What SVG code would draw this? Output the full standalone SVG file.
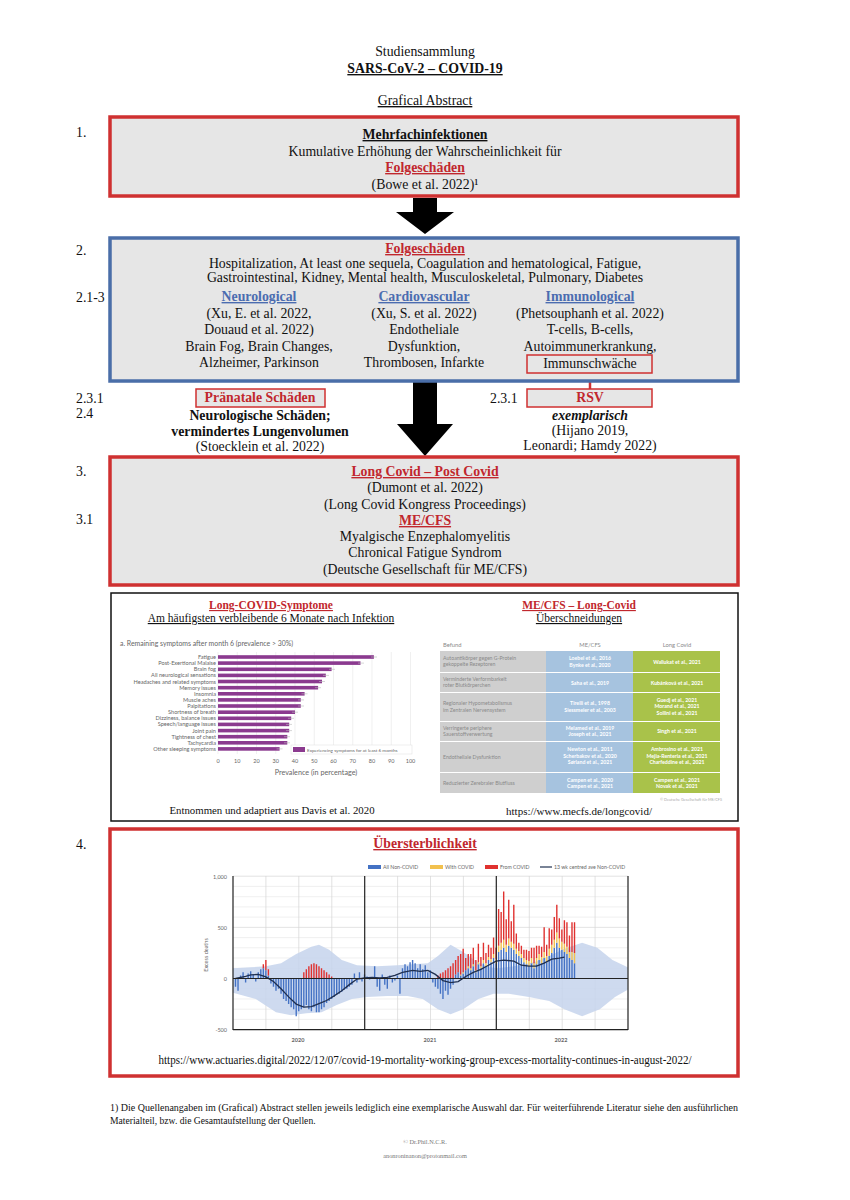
<svg xmlns="http://www.w3.org/2000/svg" width="850" height="1200" viewBox="0 0 850 1200">
<style>
.t{font-family:"Liberation Serif","Times New Roman",serif;font-size:13.8px;fill:#111;text-anchor:middle}
.s{text-anchor:start}
.e{text-anchor:end}
.b{font-weight:bold}
.u{text-decoration:underline}
.r{fill:#c1272d}
.bl{fill:#4b6cb0}
.boxr{fill:#e6e6e6;stroke:#cf3131;stroke-width:3.5}
.boxb{fill:#e6e6e6;stroke:#4a6ea8;stroke-width:3.5}
.c{font-family:Lato,"Open Sans",sans-serif;fill:#666}
.lab{font-size:5.6px;text-anchor:end}
.tk{font-size:5.5px;text-anchor:middle}
.tb{font-family:Lato,"Open Sans",sans-serif;font-size:5.2px}
.tg{fill:#8a8a8a}
.tw{fill:#fff;text-anchor:middle;font-weight:bold}
.g1{stroke:#e9e9e9;stroke-width:0.7}
.g2{stroke:#d6d6d6;stroke-width:0.7}
.ax{stroke:#222;stroke-width:1.2}
.m{font-size:11.5px}
</style>

<g id="title">
<text class="t" x="425" y="56">Studiensammlung</text>
<text class="t b u" x="425" y="73">SARS-CoV-2 – COVID-19</text>
<text class="t u" x="425" y="105">Grafical Abstract</text>
</g>

<g id="numbers">
<text class="t s" x="76" y="137">1.</text>
<text class="t s" x="76" y="255">2.</text>
<text class="t s" x="76" y="302">2.1-3</text>
<text class="t s" x="76" y="403">2.3.1</text>
<text class="t s" x="76" y="418">2.4</text>
<text class="t s" x="490" y="403">2.3.1</text>
<text class="t s" x="76" y="476">3.</text>
<text class="t s" x="76" y="524">3.1</text>
<text class="t s" x="76" y="849">4.</text>
</g>

<g id="connectors">
<polygon points="413,198 437,198 437,212 454,212 425,234 396,212 413,212" fill="#000"/>
<polygon points="413,382 437,382 437,424 453,424 425,456 397,424 413,424" fill="#000"/>
<line x1="590" y1="373" x2="590" y2="389" stroke="#cf3131" stroke-width="2.5"/>
</g>

<g id="node1">
<rect class="boxr" x="110" y="117" width="628" height="79"/>
<text class="t b u" x="425" y="139">Mehrfachinfektionen</text>
<text class="t" x="425" y="156">Kumulative Erhöhung der Wahrscheinlichkeit für</text>
<text class="t b u r" x="425" y="172">Folgeschäden</text>
<text class="t" x="425" y="189">(Bowe et al. 2022)¹</text>
</g>

<g id="node2">
<rect class="boxb" x="110" y="238" width="628" height="143"/>
<text class="t b u r" x="425" y="253">Folgeschäden</text>
<text class="t" x="425" y="268">Hospitalization, At least one sequela, Coagulation and hematological, Fatigue,</text>
<text class="t" x="425" y="282">Gastrointestinal, Kidney, Mental health, Musculoskeletal, Pulmonary, Diabetes</text>
<text class="t b u bl" x="259" y="301">Neurological</text>
<text class="t" x="259" y="318">(Xu, E. et al. 2022,</text>
<text class="t" x="259" y="334">Douaud et al. 2022)</text>
<text class="t" x="259" y="351">Brain Fog, Brain Changes,</text>
<text class="t" x="259" y="367">Alzheimer, Parkinson</text>
<text class="t b u bl" x="424" y="301">Cardiovascular</text>
<text class="t" x="424" y="318">(Xu, S. et al. 2022)</text>
<text class="t" x="424" y="334">Endotheliale</text>
<text class="t" x="424" y="351">Dysfunktion,</text>
<text class="t" x="424" y="367">Thrombosen, Infarkte</text>
<text class="t b u bl" x="590" y="301">Immunological</text>
<text class="t" x="590" y="318">(Phetsouphanh et al. 2022)</text>
<text class="t" x="590" y="334">T-cells, B-cells,</text>
<text class="t" x="590" y="351">Autoimmunerkrankung,</text>
</g>

<g id="node-immunschwaeche">
<rect x="527" y="355" width="125" height="18" fill="none" stroke="#cf3131" stroke-width="1.5"/>
<text class="t" x="590" y="368">Immunschwäche</text>
</g>

<g id="node-praenatal">
<rect x="196" y="389" width="129" height="18" fill="#e6e6e6" stroke="#cf3131" stroke-width="1.5"/>
<text class="t b r" x="260" y="402">Pränatale Schäden</text>
<text class="t b" x="260" y="420">Neurologische Schäden;</text>
<text class="t b" x="260" y="436">vermindertes Lungenvolumen</text>
<text class="t" x="260" y="451">(Stoecklein et al. 2022)</text>
</g>

<g id="node-rsv">
<rect x="527" y="389" width="125" height="18" fill="#e6e6e6" stroke="#cf3131" stroke-width="1.5"/>
<text class="t b r" x="590" y="402">RSV</text>
<text class="t b" x="590" y="420" style="font-style:italic">exemplarisch</text>
<text class="t" x="590" y="435">(Hijano 2019,</text>
<text class="t" x="590" y="450">Leonardi; Hamdy 2022)</text>
</g>

<g id="node3">
<rect class="boxr" x="110" y="457" width="628" height="128"/>
<text class="t b u r" x="425" y="476">Long Covid – Post Covid</text>
<text class="t" x="425" y="492">(Dumont et al. 2022)</text>
<text class="t" x="425" y="509">(Long Covid Kongress Proceedings)</text>
<text class="t b u r" x="425" y="525">ME/CFS</text>
<text class="t" x="425" y="541">Myalgische Enzephalomyelitis</text>
<text class="t" x="425" y="557">Chronical Fatigue Syndrom</text>
<text class="t" x="425" y="574">(Deutsche Gesellschaft für ME/CFS)</text>
</g>

<g id="panel">
<rect x="111" y="593" width="627" height="228" fill="#fff" stroke="#111" stroke-width="1.5"/>
</g>

<g id="symptoms-chart">
<text class="t b u r m" x="271" y="609">Long-COVID-Symptome</text>
<text class="t u m" x="271" y="622">Am häufigsten verbleibende 6 Monate nach Infektion</text>
<text class="c" x="120" y="646" font-size="6.9">a. Remaining symptoms after month 6 (prevalence &gt; 30%)</text>
<path class="g1" d="M218 652V754M237.25 652V754M256.5 652V754M275.75 652V754M295 652V754M314.25 652V754M333.5 652V754M352.75 652V754M372 652V754M391.25 652V754M410.5 652V754"/>
<g fill="#8b3a8f">
<rect x="218" y="655.2" width="155.9" height="3.6"/>
<rect x="218" y="661.3" width="142.5" height="3.6"/>
<rect x="218" y="667.5" width="113.6" height="3.6"/>
<rect x="218" y="673.6" width="107.8" height="3.6"/>
<rect x="218" y="679.7" width="104" height="3.6"/>
<rect x="218" y="685.9" width="100.1" height="3.6"/>
<rect x="218" y="692" width="86.6" height="3.6"/>
<rect x="218" y="698.1" width="82.8" height="3.6"/>
<rect x="218" y="704.2" width="82.8" height="3.6"/>
<rect x="218" y="710.4" width="77" height="3.6"/>
<rect x="218" y="716.5" width="73.2" height="3.6"/>
<rect x="218" y="722.6" width="71.2" height="3.6"/>
<rect x="218" y="728.8" width="71.2" height="3.6"/>
<rect x="218" y="734.9" width="69.3" height="3.6"/>
<rect x="218" y="741" width="69.3" height="3.6"/>
<rect x="218" y="747.1" width="61.6" height="3.6"/>
</g>
<path stroke="#bbb" stroke-width="0.6" d="M371 657H377M358 663.1H364M329 669.3H335M323 675.4H329M319 681.5H325M315 687.7H321M301.5 693.8H307.5M298 699.9H304M298 706H304M292 712.2H298M288 718.3H294M286 724.4H292M286 730.6H292M284 736.7H290M284 742.8H290M276.5 748.9H282.5"/>
<g class="c lab">
<text x="216" y="659">Fatigue</text>
<text x="216" y="665.1">Post-Exertional Malaise</text>
<text x="216" y="671.3">Brain fog</text>
<text x="216" y="677.4">All neurological sensations</text>
<text x="216" y="683.5">Headaches and related symptoms</text>
<text x="216" y="689.7">Memory issues</text>
<text x="216" y="695.8">Insomnia</text>
<text x="216" y="701.9">Muscle aches</text>
<text x="216" y="708">Palpitations</text>
<text x="216" y="714.2">Shortness of breath</text>
<text x="216" y="720.3">Dizziness, balance issues</text>
<text x="216" y="726.4">Speech/language issues</text>
<text x="216" y="732.6">Joint pain</text>
<text x="216" y="738.7">Tightness of chest</text>
<text x="216" y="744.8">Tachycardia</text>
<text x="216" y="750.9">Other sleeping symptoms</text>
</g>
<rect x="291" y="745" width="121" height="9" fill="#fff" stroke="#ddd" stroke-width="0.5"/>
<rect x="293" y="747" width="12" height="5" fill="#8b3a8f"/>
<text class="c" x="307" y="751.6" font-size="4.6">Experiencing symptoms for at least 6 months</text>
<g class="c tk">
<text x="218" y="763">0</text>
<text x="237.25" y="763">10</text>
<text x="256.5" y="763">20</text>
<text x="275.75" y="763">30</text>
<text x="295" y="763">40</text>
<text x="314.25" y="763">50</text>
<text x="333.5" y="763">60</text>
<text x="352.75" y="763">70</text>
<text x="372" y="763">80</text>
<text x="391.25" y="763">90</text>
<text x="410.5" y="763">100</text>
</g>
<text class="c" x="316" y="775" font-size="7.2" text-anchor="middle">Prevalence (in percentage)</text>
<text class="t" x="272" y="814" style="font-size:10.8px">Entnommen und adaptiert aus Davis et al. 2020</text>
</g>

<g id="mecfs-table">
<text class="t b u r m" x="579" y="609">ME/CFS – Long-Covid</text>
<text class="t u m" x="579" y="622">Überschneidungen</text>
<g class="tb tg" style="font-size:5.8px">
<text x="443" y="647">Befund</text>
<text x="590" y="647" text-anchor="middle">ME/CFS</text>
<text x="677" y="647" text-anchor="middle">Long Covid</text>
</g>
<g fill="#cfcfcf">
<rect x="440" y="651" width="106" height="21"/>
<rect x="440" y="673" width="106" height="19"/>
<rect x="440" y="693" width="106" height="28"/>
<rect x="440" y="722" width="106" height="19"/>
<rect x="440" y="742" width="106" height="30"/>
<rect x="440" y="773" width="106" height="20"/>
</g>
<g fill="#a6c3df">
<rect x="546" y="651" width="87" height="21"/>
<rect x="546" y="673" width="87" height="19"/>
<rect x="546" y="693" width="87" height="28"/>
<rect x="546" y="722" width="87" height="19"/>
<rect x="546" y="742" width="87" height="30"/>
<rect x="546" y="773" width="87" height="20"/>
</g>
<g fill="#a9c24a">
<rect x="633" y="651" width="87" height="21"/>
<rect x="633" y="673" width="87" height="19"/>
<rect x="633" y="693" width="87" height="28"/>
<rect x="633" y="722" width="87" height="19"/>
<rect x="633" y="742" width="87" height="30"/>
<rect x="633" y="773" width="87" height="20"/>
</g>
<g class="tb tg">
<text x="443" y="659.5">Autoantikörper gegen G-Protein</text>
<text x="443" y="666">  gekoppelte Rezeptoren</text>
<text x="443" y="680.5">Verminderte Verformbarkeit</text>
<text x="443" y="687">  roter Blutkörperchen</text>
<text x="443" y="705">Regionaler Hypometabolismus</text>
<text x="443" y="711.5">  im Zentralen Nervensystem</text>
<text x="443" y="729.5">Verringerte periphere</text>
<text x="443" y="736">  Sauerstoffverwertung</text>
<text x="443" y="759">Endotheliale Dysfunktion</text>
<text x="443" y="785">Reduzierter Zerebraler Blutfluss</text>
</g>
<g class="tb tw">
<text x="590" y="660">Loebel et al., 2016</text>
<text x="590" y="666.5">Bynke et al., 2020</text>
<text x="590" y="684.5">Saha et al., 2019</text>
<text x="590" y="705">Tirelli et al., 1998</text>
<text x="590" y="711.5">Siessmeier et al., 2003</text>
<text x="590" y="729.5">Melamed et al., 2019</text>
<text x="590" y="736">Joseph et al., 2021</text>
<text x="590" y="751">Newton et al., 2011</text>
<text x="590" y="757.5">Scherbakov et al., 2020</text>
<text x="590" y="764">Sørland et al., 2021</text>
<text x="590" y="781.5">Campen et al., 2020</text>
<text x="590" y="788">Campen et al., 2021</text>
<text x="677" y="663.5">Wallukat et al., 2021</text>
<text x="677" y="684.5">Kubánková et al., 2021</text>
<text x="677" y="701.5">Guedj et al., 2021</text>
<text x="677" y="708">Morand et al., 2021</text>
<text x="677" y="714.5">Sollini et al., 2021</text>
<text x="677" y="733">Singh et al., 2021</text>
<text x="677" y="751">Ambrosino et al., 2021</text>
<text x="677" y="757.5">Mejia-Renteria et al., 2021</text>
<text x="677" y="764">Charfeddine et al., 2021</text>
<text x="677" y="781.5">Campen et al., 2021</text>
<text x="677" y="788">Novak et al., 2021</text>
</g>
<text class="tb" x="722" y="801" style="font-size:3.8px" fill="#aaa" text-anchor="end">© Deutsche Gesellschaft für ME/CFS</text>
<text class="t" x="579" y="815" style="font-size:11px">https://www.mecfs.de/longcovid/</text>
</g>

<g id="node4">
<rect class="boxr" x="110" y="829" width="628" height="247" style="fill:#fff"/>
<text class="t b u r" x="425" y="848">Übersterblichkeit</text>
<text class="t" x="425" y="1064" style="font-size:12.5px" textLength="533" lengthAdjust="spacingAndGlyphs">https://www.actuaries.digital/2022/12/07/covid-19-mortality-working-group-excess-mortality-continues-in-august-2022/</text>
</g>

<g id="mortality-chart">
<path class="g1" d="M233 886.4H628M233 896.7H628M233 906.9H628M233 917.1H628M233 937.6H628M233 947.8H628M233 958H628M233 968.3H628M233 988.7H628M233 999H628M233 1009.2H628M233 1019.4H628"/>
<path class="g2" d="M233 876.2H628M233 927.35H628M265.9 876V1030M298.8 876V1030M331.8 876V1030M397.6 876V1030M430.5 876V1030M463.4 876V1030M529.3 876V1030M562.2 876V1030M595.1 876V1030"/>
<g transform="translate(235.5,978.5) scale(2.53,-0.1023)">
<path fill="#c5d3ec" fill-opacity="0.85" d="M-1 100L6 110L12 120L18 150L24 240L30 310L33 330L37 280L42 180L48 130L56 120L64 130L70 140L76 150L80 220L85 330L90 260L95 170L100 110L104 100L110 120L118 160L124 220L130 290L137 350L143 300L149 180L155 110L155 -110L150 -180L144 -300L137 -370L130 -300L124 -220L116 -180L108 -150L102 -150L96 -200L90 -300L85 -350L80 -300L74 -200L68 -170L60 -170L52 -180L46 -200L40 -260L34 -330L28 -340L22 -360L16 -330L8 -200L-1 -140Z"/>
<path fill="none" stroke="#4472c4" stroke-width="0.55" d="M0 0V-80M1 0V-120M2 0V30M3 0V60M4 0V-40M5 0V50M6 0V70M7 0V40M8 0V-30M9 0V60M10 0V90M11 0V100M12 0V80M13 0V30M14 0V-50M15 0V-80M16 0V-120M17 0V-100M18 0V-150M19 0V-200M20 0V-220M21 0V-250M22 0V-280M23 0V-300M24 0V-370M25 0V-320M26 0V-300M27 0V-280M28 0V-260M29 0V-300M30 0V-320M31 0V-280M32 0V-330M33 0V-330M34 0V-300M35 0V-280M36 0V-240M37 0V-220M38 0V-200M39 0V-180M40 0V-160M41 0V-150M42 0V-130M43 0V-110M44 0V-100M45 0V-80M46 0V-60M47 0V50M48 0V-40M49 0V60M50 0V-30M51 0V40M52 0V20M53 0V-10M54 0V10M55 0V120M56 0V-80M57 0V-120M58 0V40M59 0V-60M60 0V-100M61 0V30M62 0V-40M63 0V-20M64 0V30M65 0V-150M66 0V100M67 0V140M68 0V120M69 0V160M70 0V180M71 0V150M72 0V100M73 0V140M74 0V90M75 0V130M76 0V60M77 0V80M78 0V-40M79 0V-80M80 0V-100M81 0V-150M82 0V-200M83 0V-120M84 0V-160M85 0V-100M86 0V-60M87 0V40M88 0V60M89 0V30M90 0V50M91 0V80M92 0V100M93 0V80M94 0V120M95 0V60M96 0V140M97 0V100M98 0V150M99 0V120M100 0V180M101 0V160M102 0V200M103 0V150M104 0V260M105 0V280M106 0V300M107 0V260M108 0V320M109 0V300M110 0V280M111 0V240M112 0V220M113 0V200M114 0V160M115 0V140M116 0V120M117 0V150M118 0V100M119 0V140M120 0V180M121 0V150M122 0V200M123 0V160M124 0V220M125 0V250M126 0V300M127 0V350M128 0V300M129 0V280M130 0V260M131 0V240M132 0V200M133 0V180M134 0V150"/>
<path fill="none" stroke="#f2c14e" stroke-width="0.55" d="M89 30V40M90 50V60M92 100V120M93 80V100M94 120V140M95 60V80M96 140V160M97 100V120M98 150V180M99 120V150M100 180V210M101 160V190M102 200V240M103 150V190M104 260V320M105 280V350M106 300V380M107 260V330M108 320V390M109 300V360M110 280V340M111 240V290M112 220V270M113 200V240M114 160V200M115 140V180M116 120V170M117 150V200M118 100V150M119 140V200M120 180V240M121 150V210M122 200V260M123 160V220M124 220V290M125 250V330M126 300V380M127 350V450M128 300V390M129 280V360M130 260V340M131 240V310M132 200V260M133 180V260M134 150V250"/>
<path fill="none" stroke="#e0312f" stroke-width="0.55" d="M11 100V140M12 80V180M13 30V90M27 0V60M28 0V90M29 0V120M30 0V140M31 0V150M32 0V140M33 0V120M34 0V100M35 0V80M36 0V60M37 0V40M38 0V20M80 0V30M81 0V50M82 0V60M83 0V80M84 0V100M85 0V120M86 0V150M87 40V180M88 60V220M89 40V240M90 60V290M91 80V200M92 120V240M93 100V240M94 140V300M95 80V180M96 160V340M97 120V210M98 180V350M99 150V250M100 210V330M101 190V300M102 240V400M103 190V300M104 320V680M105 350V650M106 380V850M107 330V580M108 390V770M109 360V560M110 340V720M111 290V440M112 270V350M113 240V320M114 200V280M115 180V280M116 170V270M117 200V300M118 150V300M119 200V320M120 240V320M121 210V310M122 260V500M123 220V330M124 290V490M125 330V480M126 380V600M127 450V720M128 390V590M129 360V480M130 340V570M131 310V550M132 260V420M133 260V550M134 250V550"/>
<path fill="none" stroke="#1f2f4f" stroke-width="1.3" vector-effect="non-scaling-stroke" d="M0 0L4 20L6 35L9 40L12 15L15 -30L18 -100L21 -180L24 -250L27 -280L30 -275L33 -245L36 -215L39 -170L42 -120L45 -60L48 -5L51 5L54 10L57 5L60 10L63 30L66 60L70 80L73 70L76 80L79 40L82 -20L85 -40L88 -30L91 20L94 60L97 90L100 130L103 170L106 180L110 170L113 130L116 120L119 120L122 150L125 190L128 200L130 210"/>
</g>
<path class="ax" d="M233 978.5H628M233 1029.65H628M233 876V1030M364.7 876V1030M496.3 876V1030M628 876V1030"/>
<g class="c" font-size="5.5" text-anchor="end">
<text x="227" y="878.5">1,000</text>
<text x="227" y="929.5">500</text>
<text x="227" y="980.5">0</text>
<text x="227" y="1032">-500</text>
</g>
<text class="c" font-size="5.5" text-anchor="middle" transform="translate(208,955) rotate(-90)">Excess deaths</text>
<g class="c" font-size="5.5" font-weight="bold" text-anchor="middle">
<text x="298" y="1042">2020</text>
<text x="430" y="1042">2021</text>
<text x="561" y="1042">2022</text>
</g>
<g class="c" font-size="5.2">
<rect x="368" y="865" width="13" height="4" fill="#4472c4"/>
<text x="383" y="869">All Non-COVID</text>
<rect x="430" y="865" width="13" height="4" fill="#f2c14e"/>
<text x="445" y="869">With COVID</text>
<rect x="485" y="865" width="13" height="4" fill="#e0312f"/>
<text x="500" y="869">From COVID</text>
<line x1="540" y1="867" x2="552" y2="867" stroke="#1f2f4f" stroke-width="1.2"/>
<text x="554" y="869">13 wk centred ave Non-COVID</text>
</g>
</g>

<g id="footnote">
<text class="t s" x="110" y="1111" style="font-size:9.6px" textLength="628" lengthAdjust="spacingAndGlyphs">1) Die Quellenangaben im (Grafical) Abstract stellen jeweils lediglich eine exemplarische Auswahl dar. Für weiterführende Literatur siehe den ausführlichen</text>
<text class="t s" x="110" y="1124" style="font-size:9.6px">Materialteil, bzw. die Gesamtaufstellung der Quellen.</text>
<text class="t" x="425" y="1144" style="font-size:6.3px;fill:#777">© Dr.Phil.N.C.R.</text>
<text class="t" x="425" y="1158" style="font-size:6.3px;fill:#777">anonroninanon@protonmail.com</text>
</g>
</svg>
